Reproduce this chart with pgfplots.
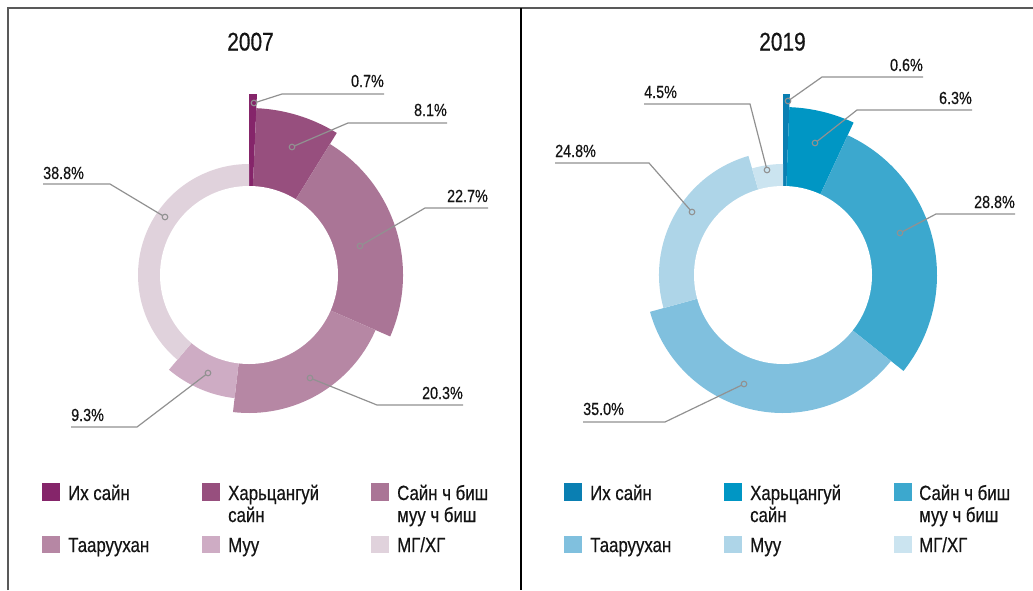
\documentclass[border=0pt]{standalone}
\usepackage{pgfplots}
\pgfplotsset{compat=1.18}
\usepackage{pgfplotstable}
\usepackage{fontspec}
\setmainfont{Liberation Sans}[FakeStretch=0.82,FakeBold=0.5]

\definecolor{A0}{RGB}{133,37,106}
\definecolor{A1}{RGB}{151,79,126}
\definecolor{A2}{RGB}{170,117,150}
\definecolor{A3}{RGB}{182,135,164}
\definecolor{A4}{RGB}{206,172,196}
\definecolor{A5}{RGB}{224,210,220}
\definecolor{B0}{RGB}{10,127,178}
\definecolor{B1}{RGB}{0,150,196}
\definecolor{B2}{RGB}{60,168,206}
\definecolor{B3}{RGB}{128,192,222}
\definecolor{B4}{RGB}{174,213,232}
\definecolor{B5}{RGB}{203,228,240}
\definecolor{lgray}{RGB}{145,145,145}
\definecolor{txt}{RGB}{20,20,20}

% share (%) and outer radius (px) of each segment, clockwise from the top
\pgfplotstableread{
pct r
0.7 181
8.1 167
22.7 154
20.3 138
9.3 124
38.8 111
}\dataA
\pgfplotstableread{
pct r
0.6 181
6.3 168
28.8 154
35.0 138
24.8 124
4.5 111
}\dataB

\newcommand\drawdonut[4]{% table, cx, cy, colour prefix
  \gdef\cum{0}%
  \gdef\tot{0}%
  \foreach \i in {0,...,5}{%
    \pgfplotstablegetelem{\i}{pct}\of#1\pgfmathsetmacro\nt{\tot+\pgfplotsretval}\xdef\tot{\nt}}%
  \foreach \i in {0,...,5}{%
    \pgfplotstablegetelem{\i}{pct}\of#1\let\p\pgfplotsretval
    \pgfplotstablegetelem{\i}{r}\of#1\let\R\pgfplotsretval
    \pgfmathsetmacro\aS{90-3.6*(\cum/\tot)*100}%
    \pgfmathsetmacro\aE{90-3.6*((\cum+\p)/\tot)*100}%
    \fill[#4\i] (axis cs:#2,#3) -- ++(\aS:\R pt) arc[start angle=\aS, end angle=\aE, radius=\R pt] -- cycle;
    \pgfmathsetmacro\nc{\cum+\p}\xdef\cum{\nc}%
  }%
  \fill[white] (axis cs:#2,#3) circle[radius=89pt];
}

\newcommand\lblfont{\fontsize{17.5}{20}\selectfont}
\newcommand\legfont{\fontsize{20.5}{24}\selectfont}

% circle x, circle y, elbow x, line y, line end x, fill colour, text, anchor, baseline
\newcommand\lbl[9]{%
  \addplot[color=lgray, line width=1.2pt, no markers] coordinates {(#1,#2) (#3,#4) (#5,#4)};
  \addplot[only marks, mark=*, mark size=2.8pt, mark options={draw=lgray, fill=#6, line width=1.1pt}] coordinates {(#1,#2)};
  \node[anchor=#8, font=\lblfont, text=txt, inner sep=0pt] at (axis cs:#5,#9) {#7};
}
% square x, square top y, colour, text x, baseline, text
\newcommand\leg[6]{%
  \fill[#3] (axis cs:#1,#2) rectangle ++(18pt,-17.5pt);
  \node[anchor=base west, font=\legfont, text=txt, inner sep=0pt] at (axis cs:#4,#5) {#6};
}

\begin{document}
\begin{tikzpicture}
\begin{axis}[x=1pt, y=1pt, xmin=0, xmax=1033, ymin=0, ymax=590, y dir=reverse,
  hide axis, clip=false]
% frame
\draw[color=black!65, line width=1.6pt] (axis cs:8,590) -- (axis cs:8,8) -- (axis cs:1033,8);
\draw[black, line width=1.1pt] (axis cs:521,8) -- (axis cs:521,590);

\pgfplotsextra{\drawdonut{\dataA}{249}{275}{A}}
\pgfplotsextra{\drawdonut{\dataB}{783}{275}{B}}

\node[anchor=base, font=\fontsize{25.5}{28}\selectfont, text=txt, inner sep=0pt] at (axis cs:250.5,50.5) {2007};
\node[anchor=base, font=\fontsize{25.5}{28}\selectfont, text=txt, inner sep=0pt] at (axis cs:782.5,50.5) {2019};

\lbl{254}{103}{282}{94}{384}{A0}{0.7\%}{base east}{87}
\lbl{292}{147}{348}{123}{447}{A1}{8.1\%}{base east}{116}
\lbl{360}{246}{425}{208}{488}{A2}{22.7\%}{base east}{202}
\lbl{310}{378}{377}{405}{463}{A3}{20.3\%}{base east}{399}
\lbl{208}{373}{137}{427}{71}{A4}{9.3\%}{base west}{421}
\lbl{165}{217}{110}{184}{43}{A5}{38.8\%}{base west}{179}

\lbl{788}{101}{822}{77}{923}{B0}{0.6\%}{base east}{71}
\lbl{815}{143}{857}{110}{972}{B1}{6.3\%}{base east}{104}
\lbl{900}{233}{936}{214}{1015}{B2}{28.8\%}{base east}{208}
\lbl{744}{384}{665}{422}{583}{B3}{35.0\%}{base west}{415}
\lbl{692}{212}{649}{163}{555}{B4}{24.8\%}{base west}{157}
\lbl{767}{170}{750}{104}{644}{B5}{4.5\%}{base west}{98}

% legends
\leg{42}{483}{A0}{68}{500}{Их сайн}
\leg{202}{483}{A1}{228}{500}{Харьцангуй}
\node[anchor=base west, font=\legfont, text=txt, inner sep=0pt] at (axis cs:228,522) {сайн};
\leg{371}{483}{A2}{397}{500}{Сайн ч биш}
\node[anchor=base west, font=\legfont, text=txt, inner sep=0pt] at (axis cs:397,522) {муу ч биш};
\leg{42}{535.5}{A3}{68}{552}{Тааруухан}
\leg{202}{535.5}{A4}{228}{552}{Муу}
\leg{371}{535.5}{A5}{397}{552}{МГ/ХГ}

\leg{564}{483}{B0}{590}{500}{Их сайн}
\leg{724}{483}{B1}{750}{500}{Харьцангуй}
\node[anchor=base west, font=\legfont, text=txt, inner sep=0pt] at (axis cs:750,522) {сайн};
\leg{894}{483}{B2}{919}{500}{Сайн ч биш}
\node[anchor=base west, font=\legfont, text=txt, inner sep=0pt] at (axis cs:919,522) {муу ч биш};
\leg{564}{535.5}{B3}{590}{552}{Тааруухан}
\leg{724}{535.5}{B4}{750}{552}{Муу}
\leg{894}{535.5}{B5}{919}{552}{МГ/ХГ}
\end{axis}
\pgfresetboundingbox
\useasboundingbox (current axis.south west) rectangle (current axis.north east);
\end{tikzpicture}
\end{document}
